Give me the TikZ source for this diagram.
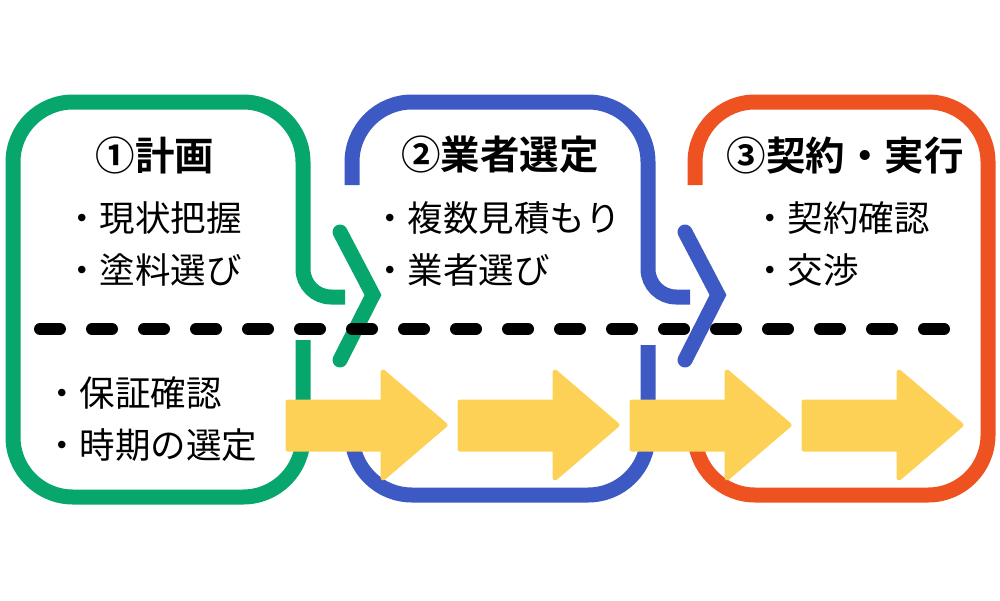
\documentclass[tikz,border=0pt]{standalone}
\usepackage{fontspec}
\newfontfamily\jp{Noto Sans CJK JP}[BoldFont=Noto Sans CJK JP Bold]
\definecolor{stepgreen}{HTML}{07A66D}
\definecolor{stepblue}{HTML}{3D5AC4}
\definecolor{stepred}{HTML}{EE5220}
\definecolor{flowyellow}{HTML}{FDD155}
\tikzset{
  frame/.style={line width=15pt, line cap=butt},
  chevron/.style={line width=15pt, line cap=round, line join=miter},
  title/.style={font=\jp\bfseries\fontsize{39.5}{42}\selectfont, inner sep=0pt},
  item/.style={font=\jp\fontsize{35.5}{38}\selectfont, anchor=west, inner sep=0pt},
  flow/.style={fill=flowyellow, draw=flowyellow, line width=5pt, line join=round}
}
\begin{document}
\begin{tikzpicture}[x=1pt,y=-1pt]
\useasboundingbox (0,0) rectangle (1000,600);
% frames
\draw[frame, stepgreen, rounded corners=28] (345,297) -- (303,297) [rounded corners=60] -- (303,102) -- (13,102) -- (13,497) -- (303,497) -- (303,340);
\draw[frame, stepblue, rounded corners=60] (352,185) -- (352,102) -- (648,102) [rounded corners=28] -- (648,297) -- (690,297);
\draw[frame, stepblue, rounded corners=60] (648,345) -- (648,495) -- (352,495) -- (352,430);
\draw[frame, stepred, rounded corners=60] (695,185) -- (695,102) -- (988,102) -- (988,495) -- (695,495) -- (695,430);
% chevrons
\draw[chevron, stepgreen] (340,232) -- (373,295) -- (340,360);
\draw[chevron, stepblue] (685,232) -- (718,295) -- (685,360);
% divider
\coordinate (dl) at (40,329);
\coordinate (dr) at (962,329);
\draw[line width=12pt, line cap=round, dash pattern=on 20pt off 32pt] (dl) -- (dr);
% flow arrows
\foreach \i in {0,...,3}{
  \pgfmathsetmacro{\xa}{288+172*\i}
  \fill[flow] (\xa,402) -- (\xa+95,402) -- (\xa+95,372) -- (\xa+157,425) -- (\xa+95,478) -- (\xa+95,449) -- (\xa,449) -- cycle;
}
% texts
\node[title] (t1) at (155,155) {①計画};
\node[title] (t2) at (500,155) {②業者選定};
\node[title] (t3) at (845,155) {③契約・実行};
\node[item] (a1) at (64,218) {・現状把握};
\node[item] (a2) at (64,270) {・塗料選び};
\node[item] (b1) at (372,218) {・複数見積もり};
\node[item] (b2) at (372,270) {・業者選び};
\node[item] (c1) at (752,218) {・契約確認};
\node[item] (c2) at (752,270) {・交渉};
\node[item] (d1) at (44,393) {・保証確認};
\node[item] (d2) at (44,445) {・時期の選定};
\end{tikzpicture}
\end{document}
